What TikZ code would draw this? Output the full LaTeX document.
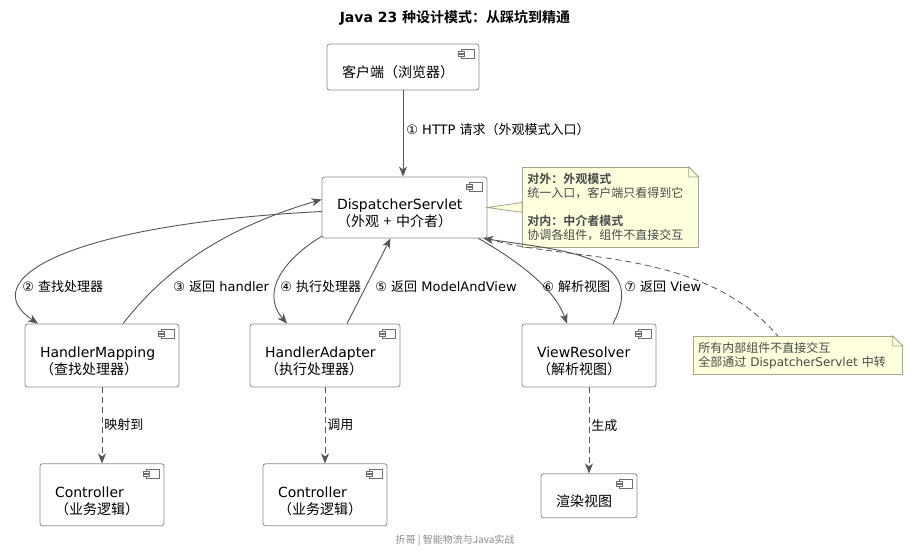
\documentclass[tikz,border=0pt]{standalone}
\usepackage{fontspec}
\setmainfont{DejaVu Sans}
\newfontfamily\cjk{Noto Sans CJK SC}[BoldFont={Noto Sans CJK SC Bold}]
\usepackage{tikz}
\usetikzlibrary{arrows.meta, positioning, calc}

\definecolor{boxline}{HTML}{8C8C8C}
\definecolor{iconline}{HTML}{707070}
\definecolor{flowline}{HTML}{555555}
\definecolor{notefill}{HTML}{FEFFDD}
\definecolor{noteline}{HTML}{A6A68C}
\definecolor{notetext}{HTML}{4A4A4A}
\definecolor{footgray}{HTML}{8A8A8A}

\newcommand\zh[1]{{\cjk #1}}
\newcommand\compicon[1]{%
  \draw[icon] ([xshift=-18pt,yshift=-6pt]#1.north east) rectangle ([xshift=-5pt,yshift=-15pt]#1.north east);
  \draw[icon] ([xshift=-21pt,yshift=-8pt]#1.north east) rectangle ([xshift=-15pt,yshift=-10pt]#1.north east);
  \draw[icon] ([xshift=-21pt,yshift=-11pt]#1.north east) rectangle ([xshift=-15pt,yshift=-13pt]#1.north east);}
\newcommand\dogear[1]{%
  \fill[white] ([xshift=-10pt,yshift=1pt]#1.north east) -- ([xshift=1pt,yshift=1pt]#1.north east) -- ([xshift=1pt,yshift=-10pt]#1.north east) -- cycle;
  \filldraw[notebox] ([xshift=-10pt]#1.north east) -- ([yshift=-10pt]#1.north east) -- ([xshift=-10pt,yshift=-10pt]#1.north east) -- cycle;}

\begin{document}
\begin{tikzpicture}[
    x=1pt, y=-1pt, >={Stealth[length=10pt, width=8pt, inset=3pt]}, node distance=76pt,
    comp/.style   ={rectangle, rounded corners=2.5pt, draw=boxline, fill=white, line width=0.8pt, align=left, inner xsep=15pt, inner ysep=0pt, font=\fontsize{14}{17}\selectfont, execute at begin node={\rule{0pt}{23pt}}},
    icon/.style   ={draw=iconline, fill=white, line width=0.7pt},
    note/.style   ={rectangle, draw=noteline, fill=notefill, line width=0.8pt, align=left, inner xsep=5pt, inner ysep=0pt, text=notetext, font=\fontsize{12}{14}\selectfont},
    notebox/.style={draw=noteline, fill=notefill, line width=0.8pt},
    lbl/.style    ={font=\fontsize{13}{15}\selectfont, inner sep=0pt, anchor=west},
    flow/.style   ={->, draw=flowline, line width=0.9pt},
    dep/.style    ={flow, dash pattern=on 6pt off 4pt},
    link/.style   ={draw=flowline, line width=0.8pt, dash pattern=on 6pt off 4pt},
]
\path[use as bounding box, fill=white] (0,0) rectangle (915,552);
\node[font=\bfseries\fontsize{14}{17}\selectfont] (title) at (455,18) {Java 23 \zh{种设计模式：从踩坑到精通}};
\node[comp, text width=122pt, minimum height=46pt] (client) at (403,67) {\zh{客户端（浏览器）}};
\node[comp, text width=135pt, minimum height=61pt] (disp) at (404.5,207.5) {DispatcherServlet\\\zh{（外观 + 中介者）}};
\node[comp, text width=124pt, minimum height=63pt] (hm) at (102,355.5) {HandlerMapping\\\zh{（查找处理器）}};
\node[comp, text width=120pt, minimum height=63pt] (ha) at (325,355.5) {HandlerAdapter\\\zh{（执行处理器）}};
\node[comp, text width=104pt, minimum height=63pt] (vr) at (589,355.5) {ViewResolver\\\zh{（解析视图）}};
\node[comp, text width=94pt, minimum height=62pt, below=of hm] (ctl1) {Controller\\\zh{（业务逻辑）}};
\node[comp, text width=94pt, minimum height=62pt, below=of ha] (ctl2) {Controller\\\zh{（业务逻辑）}};
\node[comp, text width=66pt, minimum height=44pt, below=86pt of vr] (view) {\zh{渲染视图}};
\node[note, text width=166pt, minimum height=80pt, anchor=north west] (facade) at (522,167) {\textbf{\zh{对外：外观模式}}\\\zh{统一入口，客户端只看得到它}\\[14pt]\textbf{\zh{对内：中介者模式}}\\\zh{协调各组件，组件不直接交互}};
\node[note, text width=199pt, minimum height=38pt, anchor=north west] (relay) at (693,336) {\zh{所有内部组件不直接交互}\\\zh{全部通过} DispatcherServlet \zh{中转}};
\node[font=\fontsize{10}{12}\selectfont, text=footgray] (foot) at (455,541) {\zh{折哥 | 智能物流与Java实战}};
\compicon{client}
\compicon{disp}
\compicon{hm}
\compicon{ha}
\compicon{vr}
\compicon{ctl1}
\compicon{ctl2}
\compicon{view}
\filldraw[notebox] (disp.east) -- ([yshift=5pt]facade.west) -- ([yshift=-5pt]facade.west) -- cycle;
\dogear{facade}
\dogear{relay}
\draw[flow] (client.south) -- (client.south |- disp.north) node[lbl, at={(406,130)}] {① HTTP \zh{请求（外观模式入口）}};
\draw[flow] ([yshift=-4pt]disp.west) .. controls +(-262,13.5) and +(-63,-42) .. ([xshift=-64pt]hm.north) node[lbl, at={(22,287)}] {② \zh{查找处理器}};
\draw[flow] ([xshift=21pt]hm.north) .. controls +(27,-34) and +(-122,35.5) .. ([yshift=8pt]disp.west) node[lbl, at={(173,287)}] {③ \zh{返回} handler};
\draw[flow] ([yshift=2pt]disp.south west) .. controls +(-32,19) and +(-29,-34) .. ([xshift=-38pt]ha.north) node[lbl, at={(280,287)}] {④ \zh{执行处理器}};
\draw[flow] ([xshift=22pt]ha.north) -- ([xshift=-14pt]disp.south) node[lbl, at={(375,287)}] {⑤ \zh{返回} ModelAndView};
\draw[flow] ([xshift=-9pt]disp.south east) .. controls +(42,24) and +(-12,-34) .. ([xshift=-22pt]vr.north) node[lbl, at={(542,287)}] {⑥ \zh{解析视图}};
\draw[flow] ([xshift=24pt]vr.north) .. controls +(37,-69) and +(77,12) .. ([xshift=-4pt]disp.south east) node[lbl, at={(624,287)}] {⑦ \zh{返回} View};
\draw[dep] (hm) -- (ctl1) node[lbl, at={(104,425)}] {\zh{映射到}};
\draw[dep] (ha) -- (ctl2) node[lbl, at={(327,425)}] {\zh{调用}};
\draw[dep] (vr) -- (view) node[lbl, at={(591,426)}] {\zh{生成}};
\draw[link] (disp.south east) .. controls +(73,24) and +(-78,-91) .. ([xshift=-20pt]relay.north);
\end{tikzpicture}
\end{document}
